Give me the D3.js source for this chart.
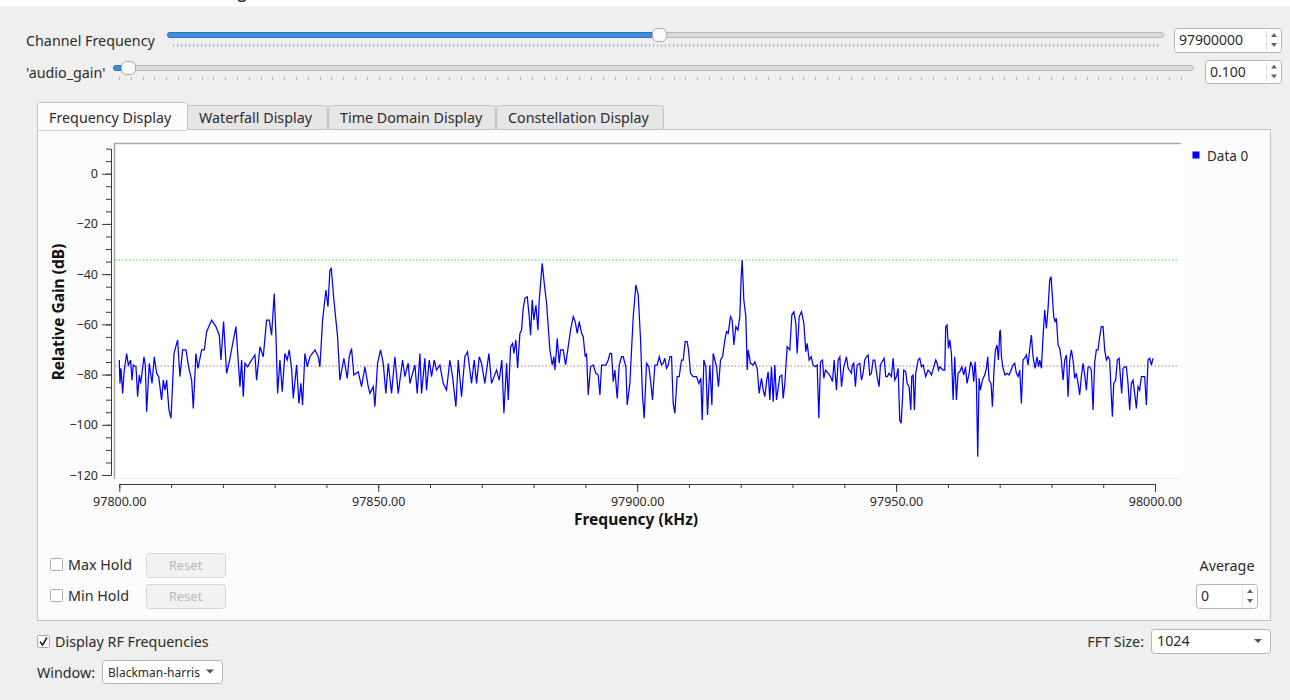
<!DOCTYPE html>
<html>
<head>
<meta charset="utf-8">
<script src="https://cdn.jsdelivr.net/npm/d3@7"></script>
<style>
body{margin:0;background:#efefef;overflow:hidden;}
svg text{font-family:"Noto Sans","Open Sans",sans-serif;fill:#2b2b2b;}
</style>
</head>
<body>
<svg id="ui" width="1290" height="700"></svg>
<script>

// ===============================
// DATA
// ===============================

// [frequency kHz, relative gain dB]
const trace = [
[97800.00,-74.2],[97800.13,-83.5],[97800.32,-77.5],[97800.65,-87.5],[97800.90,-79.5],[97801.10,-76.2],[97801.42,-71.6],[97801.74,-76.2],[97802.19,-74.2],[97802.45,-82.2],
[97802.70,-76.2],[97803.22,-76.9],[97803.54,-88.8],[97803.86,-80.2],[97804.12,-83.5],[97804.38,-79.5],[97804.76,-72.9],[97805.02,-76.2],[97805.28,-94.8],[97805.79,-75.5],
[97806.31,-83.5],[97806.76,-72.9],[97807.21,-79.5],[97807.60,-80.8],[97808.17,-90.1],[97808.50,-82.2],[97808.82,-86.2],[97809.14,-82.2],[97809.59,-94.1],[97809.98,-97.4],
[97810.30,-83.5],[97810.56,-71.6],[97811.26,-66.2],[97811.71,-80.8],[97812.23,-70.2],[97812.87,-70.2],[97813.39,-76.9],[97813.97,-82.2],[97814.29,-93.5],[97814.80,-71.6],
[97815.19,-77.5],[97815.90,-70.2],[97816.41,-70.2],[97816.86,-62.9],[97817.83,-58.3],[97818.66,-60.9],[97819.31,-64.3],[97819.63,-74.2],[97820.14,-58.9],[97820.72,-79.5],
[97821.24,-74.9],[97822.52,-60.9],[97823.30,-84.8],[97823.62,-74.2],[97823.94,-88.8],[97824.26,-75.5],[97824.78,-76.9],[97825.55,-74.2],[97826.19,-72.2],[97826.51,-82.2],
[97827.16,-68.9],[97827.80,-72.9],[97828.44,-58.3],[97828.96,-58.3],[97829.41,-64.3],[97829.92,-47.7],[97830.25,-64.3],[97830.57,-87.5],[97831.02,-74.2],[97831.47,-86.8],
[97831.98,-71.6],[97832.43,-74.2],[97832.82,-70.2],[97833.27,-77.5],[97833.59,-89.5],[97834.24,-76.2],[97834.69,-91.5],[97835.07,-83.5],[97835.39,-92.1],[97835.84,-71.6],
[97836.30,-76.9],[97836.81,-72.9],[97837.78,-70.2],[97838.42,-72.9],[97838.74,-76.9],[97839.26,-58.3],[97839.90,-46.3],[97840.29,-53.0],[97840.67,-38.4],[97840.93,-37.7],
[97841.44,-50.3],[97842.15,-64.9],[97842.60,-82.2],[97843.37,-73.5],[97844.02,-81.5],[97844.40,-72.9],[97844.85,-69.6],[97845.30,-80.2],[97846.14,-78.9],[97846.78,-84.8],
[97847.43,-76.9],[97848.07,-84.8],[97848.39,-87.5],[97849.04,-84.8],[97849.36,-92.8],[97849.87,-75.5],[97850.45,-70.2],[97850.97,-75.5],[97851.48,-87.5],[97851.93,-75.5],
[97852.58,-87.5],[97853.22,-72.9],[97853.86,-87.5],[97854.70,-74.2],[97855.15,-80.8],[97855.79,-75.5],[97856.12,-83.5],[97857.08,-76.2],[97857.53,-87.5],[97858.05,-71.6],
[97858.37,-87.5],[97859.01,-73.5],[97859.33,-86.2],[97859.85,-74.2],[97860.30,-80.8],[97860.81,-74.2],[97861.26,-78.2],[97861.91,-76.2],[97862.55,-83.5],[97863.19,-86.2],
[97863.84,-74.2],[97864.35,-80.8],[97865.00,-92.8],[97865.45,-74.2],[97866.09,-88.8],[97866.73,-72.9],[97867.25,-70.9],[97868.02,-83.5],[97868.54,-74.2],[97868.99,-83.5],
[97869.50,-72.9],[97869.95,-75.5],[97870.59,-83.5],[97871.37,-71.6],[97871.88,-83.5],[97872.85,-78.2],[97873.36,-82.2],[97873.87,-74.2],
[97874.27,-95.4],[97874.79,-75.5],[97875.11,-90.1],[97875.56,-68.9],[97875.95,-67.6],[97876.20,-71.6],[97876.59,-66.2],[97876.91,-77.5],[97877.36,-63.6],[97877.68,-62.3],
[97878.00,-53.6],[97878.33,-49.6],[97878.78,-49.0],[97879.16,-56.9],[97879.42,-64.3],[97879.74,-50.3],[97880.06,-58.3],[97880.45,-52.3],[97880.84,-62.3],[97881.09,-50.3],
[97881.67,-35.7],[97882.06,-43.7],[97882.51,-51.6],[97883.15,-70.2],[97883.60,-76.2],[97883.92,-72.9],[97884.12,-78.2],[97884.57,-65.6],[97884.95,-75.5],[97885.21,-70.2],
[97885.73,-70.2],[97886.18,-76.2],[97886.69,-68.9],[97887.14,-62.3],[97887.66,-56.9],[97888.04,-58.9],[97888.43,-63.6],[97888.82,-58.9],[97889.27,-63.6],[97889.59,-64.9],
[97889.97,-72.9],[97890.23,-71.6],[97890.55,-88.1],[97891.00,-76.9],[97891.52,-76.2],[97892.03,-79.5],[97892.48,-80.2],[97892.81,-88.1],[97893.13,-76.2],[97893.96,-76.2],
[97894.41,-74.2],[97894.74,-71.6],[97895.06,-71.6],[97895.38,-82.8],[97895.70,-78.2],[97896.15,-89.5],[97896.54,-76.2],[97896.99,-72.9],[97897.31,-72.9],[97897.82,-76.9],
[97898.08,-92.1],[97898.60,-83.5],[97899.24,-56.9],[97899.75,-44.3],[97900.21,-48.3],[97900.66,-66.2],[97901.04,-88.8],[97901.36,-97.4],[97901.81,-75.5],[97902.26,-76.9],
[97902.65,-83.5],[97902.97,-90.1],[97903.42,-76.2],[97903.87,-76.2],[97904.26,-72.9],[97904.71,-76.2],[97905.03,-75.5],[97905.35,-73.5],[97905.68,-77.5],[97906.00,-76.2],
[97906.32,-72.9],[97906.64,-72.9],[97906.96,-91.5],[97907.28,-95.4],[97907.73,-80.8],[97908.12,-80.8],[97908.57,-74.2],[97908.89,-74.2],[97909.28,-66.9],[97909.66,-66.9],
[97909.92,-70.2],[97910.31,-79.5],[97910.82,-80.8],[97911.47,-80.8],[97911.92,-83.5],[97912.30,-81.5],[97912.56,-98.1],[97912.88,-74.2],[97913.27,-76.9],[97913.59,-96.1],
[97914.04,-76.2],[97914.43,-92.1],[97914.68,-71.6],[97915.01,-74.2],[97915.33,-76.9],[97915.71,-84.8],[97916.10,-74.2],[97916.49,-72.9],[97916.94,-66.2],[97917.26,-62.9],
[97917.58,-63.6],[97918.03,-56.9],[97918.35,-58.3],[97918.67,-68.2],[97919.06,-60.9],[97919.45,-62.3],[97919.83,-56.9],[97920.09,-41.0],[97920.28,-34.4],[97920.60,-50.3],
[97920.99,-56.9],[97921.25,-78.2],[97921.44,-70.2],[97921.89,-75.5],[97922.41,-76.2],[97922.73,-74.9],[97923.18,-77.5],[97923.56,-87.5],[97924.01,-81.5],[97924.34,-86.2],
[97924.66,-88.8],[97924.98,-82.8],[97925.30,-78.9],[97925.62,-90.1],[97925.94,-76.9],[97926.27,-90.8],[97926.59,-76.2],[97926.91,-90.1],[97927.55,-80.8],[97927.94,-80.2],
[97928.20,-89.5],[97928.52,-83.5],[97928.97,-68.9],[97929.48,-70.2],[97929.87,-56.3],[97930.26,-55.0],[97930.64,-59.6],[97930.90,-71.6],[97931.29,-56.9],[97931.74,-55.0],
[97932.19,-59.6],[97932.57,-70.9],[97932.83,-67.6],[97933.22,-74.2],[97933.60,-72.9],[97933.99,-76.2],[97934.38,-76.9],[97934.76,-76.2],[97935.08,-97.4],[97935.41,-74.9],
[97935.79,-74.2],[97936.05,-81.5],[97936.37,-78.2],[97936.89,-79.5],[97937.34,-80.8],[97937.72,-82.8],[97938.04,-74.2],[97938.49,-86.2],[97938.82,-74.2],[97939.14,-72.9],
[97939.46,-84.8],[97939.91,-76.9],[97940.42,-72.9],[97940.75,-77.5],
[97941.38,-79.5],[97941.57,-76.2],[97941.83,-75.5],[97942.15,-84.8],[97942.48,-76.2],[97942.99,-75.5],[97943.31,-82.2],[97943.63,-79.5],[97943.96,-74.2],[97944.28,-72.9],
[97944.60,-72.2],[97944.92,-80.2],[97945.24,-79.5],[97945.56,-74.2],[97945.89,-74.2],[97946.34,-80.8],[97946.72,-84.8],[97946.98,-76.2],[97947.30,-74.9],[97947.69,-73.5],
[97948.01,-80.8],[97948.33,-80.8],[97948.65,-79.5],[97949.10,-80.8],[97949.43,-73.5],[97949.75,-82.2],[97950.07,-80.8],[97950.39,-77.5],[97950.71,-98.1],[97950.97,-99.4],
[97951.23,-90.1],[97951.48,-78.2],[97951.87,-78.9],[97952.13,-83.5],[97952.51,-84.8],[97952.84,-94.1],[97953.03,-80.8],[97953.29,-80.2],[97953.54,-94.1],[97953.80,-79.5],
[97954.25,-74.2],[97954.57,-73.5],[97954.90,-76.9],[97955.22,-76.2],[97955.73,-80.8],[97956.18,-78.2],[97956.50,-78.9],[97956.83,-80.2],[97957.28,-76.9],[97957.66,-74.2],
[97957.92,-75.5],[97958.18,-78.2],[97958.43,-76.9],[97959.08,-78.2],[97959.40,-78.2],[97959.59,-60.9],[97959.85,-60.3],[97960.11,-69.6],[97960.37,-66.2],[97960.69,-71.6],
[97961.01,-90.1],[97961.33,-72.9],[97961.65,-90.1],[97961.97,-79.5],[97962.30,-78.9],[97962.68,-76.9],[97963.07,-80.2],[97963.39,-76.9],[97963.71,-83.5],[97964.10,-79.5],
[97964.42,-74.9],[97964.74,-76.9],[97965.00,-82.8],[97965.26,-74.9],[97965.51,-82.8],[97965.77,-112.7],[97966.03,-81.5],[97966.28,-86.2],[97966.67,-82.2],[97967.12,-80.2],
[97967.44,-77.5],[97967.70,-72.9],[97967.96,-82.2],[97968.34,-83.5],[97968.60,-92.8],[97968.92,-78.2],[97969.18,-70.2],[97969.50,-68.2],[97969.76,-74.2],[97970.02,-62.9],
[97970.15,-62.3],[97970.34,-72.9],[97970.66,-77.5],[97971.05,-80.2],[97971.43,-79.5],[97971.82,-80.2],[97972.21,-78.2],[97972.59,-76.2],[97972.91,-75.5],[97973.24,-79.5],
[97973.56,-80.8],[97973.88,-78.2],[97974.20,-91.5],[97974.52,-74.2],[97974.84,-73.5],[97975.17,-72.2],[97975.49,-76.2],[97975.81,-69.6],[97976.13,-64.3],[97976.45,-72.9],
[97976.84,-77.5],[97977.22,-72.9],[97977.48,-76.9],[97977.74,-74.2],[97978.06,-77.5],[97978.38,-64.9],[97978.70,-54.3],[97979.03,-61.6],[97979.35,-53.6],[97979.67,-42.3],
[97979.93,-41.0],[97980.19,-49.0],[97980.44,-56.9],[97980.70,-58.9],[97980.96,-57.6],[97981.28,-68.2],[97981.60,-69.6],[97981.92,-74.2],[97982.24,-82.2],[97982.57,-74.2],
[97982.89,-72.2],[97983.21,-88.8],[97983.53,-74.2],[97983.85,-70.2],[97984.17,-74.2],[97984.50,-81.5],[97984.82,-79.5],[97985.14,-83.5],[97985.46,-88.1],[97985.78,-80.8],
[97986.11,-75.5],[97986.43,-80.2],[97986.75,-86.2],[97987.07,-76.9],[97987.39,-76.9],[97987.71,-78.2],[97988.04,-94.1],[97988.36,-74.9],[97988.68,-70.2],[97989.00,-70.2],
[97989.32,-64.9],[97989.64,-60.9],[97989.97,-60.9],[97990.29,-70.2],[97990.61,-74.2],[97990.93,-72.9],[97991.25,-74.2],[97991.57,-88.8],[97991.77,-96.8],[97992.03,-83.5],
[97992.41,-82.2],[97992.73,-74.2],[97993.06,-73.5],[97993.31,-80.8],[97993.57,-87.5],[97993.83,-77.5],[97994.15,-76.9],[97994.47,-76.9],[97994.79,-83.5],[97995.11,-94.1],
[97995.44,-83.5],[97995.76,-82.2],[97996.08,-87.5],[97996.40,-93.5],[97996.72,-84.8],[97997.04,-86.2],[97997.37,-80.8],[97997.69,-80.8],[97998.01,-80.8],[97998.33,-92.1],
[97998.65,-74.2],[97998.97,-73.5],[97999.30,-76.2],[97999.62,-73.5]
];

const maxLevel = -34.4;   // green dotted marker
const avgLevel = -76.6;   // red dotted marker

const xTicks = [97800, 97850, 97900, 97950, 98000];
const xMinor = d3.range(97800, 98001, 10);
const yTicks = [0, -20, -40, -60, -80, -100, -120];
const yMinor = d3.range(-120, 11, 5);

const tabNames = ["Frequency Display", "Waterfall Display", "Time Domain Display", "Constellation Display"];
const seriesName = "Data 0";

const svg = d3.select("#ui");

// ===============================
// HELPERS
// ===============================

function rect(x, y, w, h, fill, stroke, rx){
    return svg.append("rect")
        .attr("x", x + 0.5).attr("y", y + 0.5)
        .attr("width", w).attr("height", h)
        .attr("rx", rx || 0)
        .attr("fill", fill)
        .attr("stroke", stroke || "none");
}

function text(x, y, str, size, opts){
    opts = opts || {};
    return svg.append("text")
        .attr("x", x).attr("y", y)
        .attr("font-size", size)
        .attr("font-weight", opts.bold ? "bold" : null)
        .attr("text-anchor", opts.anchor || "start")
        .style("fill", opts.color || null)
        .text(str);
}

function spinArrows(cx, top, bottom){
    const mid = (top + bottom) / 2;
    svg.append("path")
        .attr("d", `M${cx-3},${mid-3} L${cx+3},${mid-3} L${cx},${mid-7} Z M${cx-3},${mid+3} L${cx+3},${mid+3} L${cx},${mid+7} Z`)
        .attr("fill", "#666");
}

function spinBox(x, y, w, h, value){
    rect(x, y, w, h, "#fff", "#b4b4b4", 3);
    svg.append("line")
        .attr("x1", x + w - 14.5).attr("x2", x + w - 14.5)
        .attr("y1", y + 2).attr("y2", y + h - 1)
        .attr("stroke", "#e2e2e2");
    text(x + 5, y + h / 2 + 5, value, 14);
    spinArrows(x + w - 7, y, y + h);
}

function comboBox(x, y, w, h, value, size){
    rect(x, y, w, h, "#fff", "#b4b4b4", 3);
    text(x + 6, y + h / 2 + 5, value, size);
    const ax = x + w - 12, ay = y + h / 2;
    svg.append("path")
        .attr("d", `M${ax-4},${ay-2} L${ax+4},${ay-2} L${ax},${ay+2} Z`)
        .attr("fill", "#555");
}

function checkBox(x, y, checked){
    rect(x, y, 12, 12, "#fff", "#a8a8a8", 1);
    if(checked){
        svg.append("path")
            .attr("d", `M${x+3},${y+6.5} L${x+5.5},${y+10} L${x+10},${y+2.5}`)
            .attr("fill", "none").attr("stroke", "#222").attr("stroke-width", 1.6);
    }
}

function slider(x0, x1, y, pos, tickStep){
    rect(x0, y - 3, x1 - x0, 5, "#dadada", "#b8b8b8", 2.5);
    rect(x0, y - 3, pos - x0, 5, "#3b8edb", "#2d74b8", 2.5);
    svg.append("g").selectAll("line")
        .data(d3.range(x0 + 6, x1 - 4, tickStep))
        .enter().append("line")
        .attr("x1", d => Math.round(d) + 0.5).attr("x2", d => Math.round(d) + 0.5)
        .attr("y1", y + 9).attr("y2", y + 12)
        .attr("stroke", "#b0b0b0");
    rect(pos - 7, y - 7, 14, 13, "#fbfbfb", "#a9a9a9", 5);
}

// ===============================
// TOP CONTROLS
// ===============================

rect(-1, -1, 1292, 7, "#ffffff");
text(236, -3, "g", 20, {color:"#333"});

text(26, 46, "Channel Frequency", 14.3);
slider(167, 1163, 35, 659, 4);
spinBox(1174, 28, 107, 24, "97900000");

text(26, 78, "'audio_gain'", 14.3);
slider(113, 1193, 68, 128, 11.8);
spinBox(1205, 60, 76, 23, "0.100");

// ===============================
// TABS + PANE
// ===============================

rect(37, 129, 1233, 491, "#fcfcfc", "#c2c2c2");

const tabX = [37, 187, 328, 496, 664];
tabNames.forEach((name, i) => {
    const active = i === 0;
    const top = active ? 102 : 105;
    rect(tabX[i], top, tabX[i + 1] - tabX[i] - (active ? 0 : 1), 129 - top + (active ? 1 : 0),
        active ? "#fcfcfc" : "#e6e6e6", "#c2c2c2", 2);
    text(tabX[i] + 12, 123, name, 14.3);
});
// hide pane border under the active tab
svg.append("line").attr("x1", 38).attr("x2", 187).attr("y1", 129.5).attr("y2", 129.5)
    .attr("stroke", "#fcfcfc").attr("stroke-width", 1.5);

// ===============================
// PLOT
// ===============================

const x = d3.scaleLinear().domain([97800, 98000]).range([119.3, 1155]);
const y = d3.scaleLinear().domain([10, -120]).range([148.6, 475]);

// canvas
rect(114, 143, 1067, 336, "#ffffff");
svg.append("path").attr("d", "M114.5,479 V143.5 H1181").attr("fill", "none").attr("stroke", "#a6a6a6").attr("stroke-width", 1.5);
svg.append("path").attr("d", "M115.5,478.5 H1181").attr("fill", "none").attr("stroke", "#ececec");

// markers
svg.append("line")
    .attr("x1", 115).attr("x2", 1179)
    .attr("y1", y(maxLevel)).attr("y2", y(maxLevel))
    .attr("stroke", "#2ee62e").attr("stroke-dasharray", "1.5,2");
svg.append("line")
    .attr("x1", 115).attr("x2", 1179)
    .attr("y1", y(avgLevel)).attr("y2", y(avgLevel))
    .attr("stroke", "#c47474").attr("stroke-dasharray", "1.5,2");

// trace
svg.append("path")
    .datum(trace)
    .attr("d", d3.line().x(d => x(d[0])).y(d => y(d[1])))
    .attr("fill", "none")
    .attr("stroke", "#0000ff")
    .attr("stroke-width", 1.25)
    .attr("stroke-linejoin", "miter");

// y axis
const yAxisG = svg.append("g").attr("transform", "translate(111,0)");
yAxisG.call(d3.axisLeft(y).tickValues(yMinor).tickSize(5).tickSizeOuter(0).tickFormat(""));
yAxisG.append("g").call(d3.axisLeft(y).tickValues(yTicks).tickSize(9).tickSizeOuter(0).tickPadding(4));

// x axis
const xAxisG = svg.append("g").attr("transform", "translate(0,484)");
xAxisG.call(d3.axisBottom(x).tickValues(xMinor).tickSize(4).tickSizeOuter(0).tickFormat(""));
xAxisG.append("g").call(d3.axisBottom(x).tickValues(xTicks).tickSize(8).tickSizeOuter(0).tickPadding(5)
    .tickFormat(d => d.toFixed(2)));

svg.selectAll(".tick text").attr("font-size", 12.5).attr("font-family", null).style("fill", "#2b2b2b");
svg.selectAll(".domain, .tick line").attr("stroke", "#3a3a3a");

// axis titles
text(636, 525, "Frequency (kHz)", 15.5, {bold:true, anchor:"middle", color:"#111"});
svg.append("text")
    .attr("transform", "translate(64,312) rotate(-90)")
    .attr("text-anchor", "middle")
    .attr("font-size", 15.5).attr("font-weight", "bold")
    .style("fill", "#111")
    .text("Relative Gain (dB)");

// legend
rect(1192, 151, 7, 7, "#0000ff");
text(1207, 161, seriesName, 13.5);

// ===============================
// BOTTOM CONTROLS
// ===============================

checkBox(50, 558, false);
text(68, 570, "Max Hold", 14.3);
rect(146, 553, 79, 24, "#f2f2f2", "#d6d6d6", 3);
text(185.5, 570, "Reset", 13, {anchor:"middle", color:"#b8b8b8"});

checkBox(50, 589, false);
text(68, 601, "Min Hold", 14.3);
rect(146, 584, 79, 24, "#f2f2f2", "#d6d6d6", 3);
text(185.5, 601, "Reset", 13, {anchor:"middle", color:"#b8b8b8"});

text(1227, 571, "Average", 14.3, {anchor:"middle"});
spinBox(1196, 584, 61, 24, "0");

checkBox(37, 635, true);
text(55, 647, "Display RF Frequencies", 14.3);

text(37, 678, "Window:", 14.3);
comboBox(102, 660, 120, 23, "Blackman-harris", 12);

text(1144, 647, "FFT Size:", 14.3, {anchor:"end"});
comboBox(1151, 629, 119, 24, "1024", 14.3);

</script>
</body>
</html>
